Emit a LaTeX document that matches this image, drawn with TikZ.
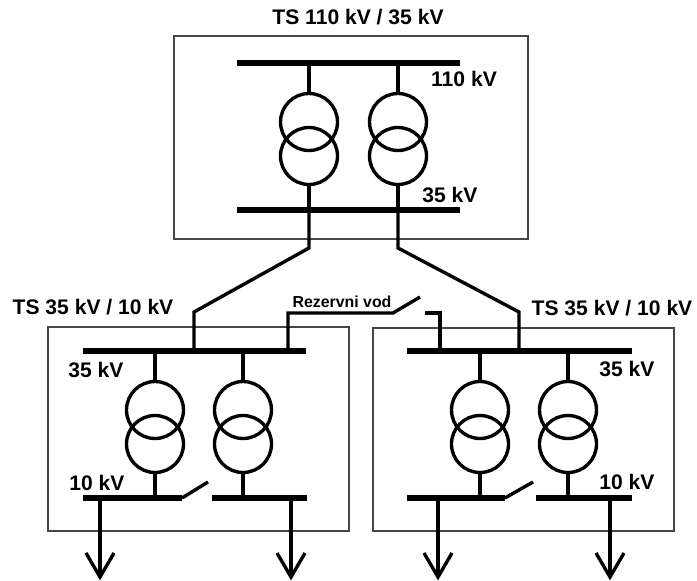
\documentclass[tikz,border=0pt]{standalone}
\usepackage{fontspec}
\setmainfont{Liberation Sans}
\begin{document}
\begin{tikzpicture}[x=0.025cm, y=-0.025cm]

  % Custom colors and styles
  \definecolor{frame}{RGB}{70,70,70}
  \tikzset{
    bus/.style={line width=3.7pt},
    wire/.style={line width=2.4pt},
    station/.style={draw=frame, line width=0.9pt},
    lbl/.style={font=\fontsize{15}{18}\selectfont\bfseries, inner sep=0pt},
    small/.style={font=\fontsize{11.3}{14}\selectfont\bfseries, inner sep=0pt}
  }
  \useasboundingbox (0,0) rectangle (697,580);

  % Station frames
  \draw[station] (174,36) rectangle (528,239);
  \draw[station] (48,327) rectangle (349,531);
  \draw[station] (373,328) rectangle (674,531);

  % Titles
  \node[lbl] (tsTop) at (358,17) {TS 110 kV / 35 kV};
  \node[lbl] (tsLeft) at (93,307) {TS 35 kV / 10 kV};
  \node[lbl] (tsRight) at (612,308) {TS 35 kV / 10 kV};

  % Voltage labels
  \node[lbl] (hvTop) at (464,79) {110 kV};
  \node[lbl] (mvTop) at (450,195) {35 kV};
  \node[lbl] (mvLeft) at (96,370) {35 kV};
  \node[lbl] (lvLeft) at (97,483) {10 kV};
  \node[lbl] (mvRight) at (627,369) {35 kV};
  \node[lbl] (lvRight) at (627,482) {10 kV};
  \node[small] (reserve) at (342,302) {Rezervni vod};

  % Busbars
  \draw[bus] (237,63) -- (460,63);
  \draw[bus] (237,210) -- (460,210);
  \draw[bus] (83,351) -- (306,351);
  \draw[bus] (407,351) -- (632,351);
  \draw[bus] (83,498) -- (182,498);
  \draw[bus] (212,498) -- (307,498);
  \draw[bus] (407,498) -- (505,498);
  \draw[bus] (536,498) -- (632,498);

  % Bus couplers (open)
  \draw[wire] (182,498) -- (208,482);
  \draw[wire] (505,498) -- (533,482);

  % Transformers
  \foreach \x/\y/\z in {309/63/210, 398/63/210, 155/351/498, 243/351/498, 480/351/498, 568/351/498} {
    \draw[wire] (\x,\y) -- (\x,\y+30.5);
    \draw[wire] (\x,\y+59) circle (28.5);
    \draw[wire] (\x,\y+93) circle (28.5);
    \draw[wire] (\x,\y+121.5) -- (\x,\z);
  }

  % Lines from TS 110/35 to both TS 35/10
  \coordinate (feedA) at (309,210);
  \coordinate (feedB) at (398,210);
  \coordinate (inA) at (194,351);
  \coordinate (inB) at (519,351);
  \draw[wire] (feedA) -- ++(0,38) -- (inA |- 0,312) -- (inA);
  \draw[wire] (feedB) -- ++(0,38) -- (inB |- 0,312) -- (inB);

  % Reserve line with open switch
  \coordinate (resA) at (288,351);
  \coordinate (resB) at (440,351);
  \draw[wire] (resA) -- (288,313) -- (393,313) -- (420,297);
  \draw[wire] (425,313) -- (440,313) -- (resB);

  % Outgoing feeders
  \foreach \x in {100, 291, 438, 610} {
    \draw[wire, line width=2.7pt] (\x,498) -- (\x,577);
    \draw[wire] (\x-14,553) -- (\x,577) -- (\x+14,553);
  }

\end{tikzpicture}
\end{document}
